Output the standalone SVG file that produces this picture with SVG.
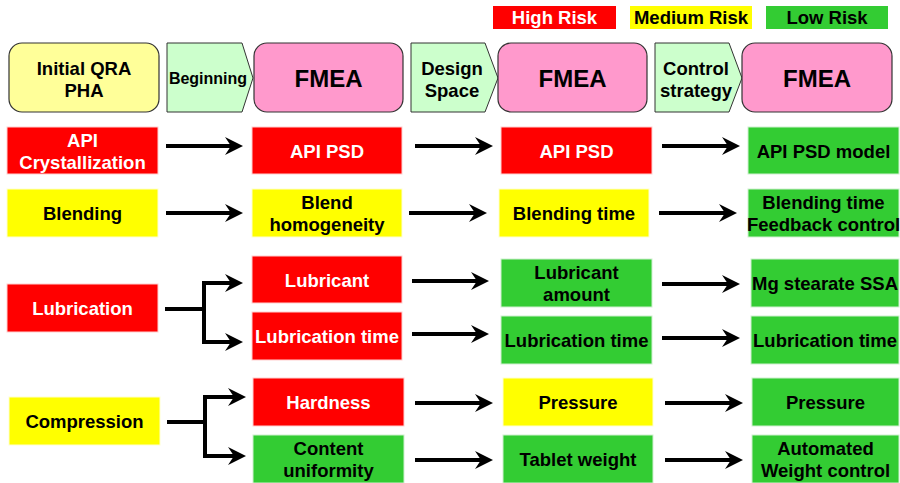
<svg xmlns="http://www.w3.org/2000/svg" width="900" height="483" viewBox="0 0 900 483">
<style>
text{font-family:"Liberation Sans",Arial,sans-serif;font-weight:bold;text-anchor:middle}
.t{font-size:18.5px}
.w{fill:#fff}
.k{fill:#000}
.red{fill:#FF0000;stroke:#ffd0d0;stroke-width:1}
.yel{fill:#FFFF00;stroke:#ffffd0;stroke-width:1}
.grn{fill:#33CC33;stroke:#d0f0d0;stroke-width:1}
.hy{fill:#FFFF99;stroke:#333;stroke-width:1.2}
.hp{fill:#FF99CC;stroke:#333;stroke-width:1.2}
.ch{fill:#CCFFCC;stroke:#333;stroke-width:1}
.big{font-size:24px}
.conn path{fill:none;stroke:#000;stroke-width:4;marker-end:url(#ah)}
</style>
<defs>
<marker id="ah" markerUnits="userSpaceOnUse" markerWidth="20" markerHeight="20" viewBox="0 0 20 20" refX="10" refY="10" orient="auto">
<path d="M1,1 L19,10 L1,19 L7,10 Z" fill="#000"/>
</marker>
</defs>
<g id="legend">
<rect x="493" y="6" width="123" height="23" fill="#FF0000"/>
<text class="t w" x="554.5" y="24">High Risk</text>
<rect x="630" y="6" width="122" height="23" fill="#FFFF00"/>
<text class="t k" x="691" y="24">Medium Risk</text>
<rect x="766" y="6" width="122" height="23" fill="#33CC33"/>
<text class="t k" x="827" y="24">Low Risk</text>
</g>
<g id="h-initial"><rect class="hy" x="9" y="43" width="150" height="69" rx="13"/><text class="t" x="84" y="75">Initial QRA</text><text class="t" x="84" y="97">PHA</text></g>
<g id="h-beginning"><path class="ch" d="M167,43 H242 L253,78 L242,112 H167 Z"/><text x="208" y="84" font-size="16">Beginning</text></g>
<g id="h-fmea1"><rect class="hp" x="254" y="43" width="149" height="69" rx="13"/><text class="big" x="328.5" y="87">FMEA</text></g>
<g id="h-design"><path class="ch" d="M411,43 H485 L498,78 L485,112 H411 Z"/><text class="t" x="452" y="75">Design</text><text class="t" x="452" y="97">Space</text></g>
<g id="h-fmea2"><rect class="hp" x="498" y="43" width="149" height="69" rx="13"/><text class="big" x="572.5" y="87">FMEA</text></g>
<g id="h-control"><path class="ch" d="M655,43 H729 L742,78 L729,112 H655 Z"/><text class="t" x="696" y="75">Control</text><text class="t" x="696" y="97">strategy</text></g>
<g id="h-fmea3"><rect class="hp" x="742" y="43" width="150" height="69" rx="13"/><text class="big" x="817" y="87">FMEA</text></g>

<g id="n-api"><rect class="red" x="7" y="127" width="151" height="47"/><text class="t w" x="82.5" y="147">API</text><text class="t w" x="82.5" y="169">Crystallization</text></g>
<g id="n-apipsd1"><rect class="red" x="252" y="127" width="150" height="47"/><text class="t w" x="327" y="158">API PSD</text></g>
<g id="n-apipsd2"><rect class="red" x="501" y="127" width="151" height="47"/><text class="t w" x="576.5" y="158">API PSD</text></g>
<g id="n-apimodel"><rect class="grn" x="748" y="127" width="151" height="47"/><text class="t k" x="823.5" y="158">API PSD model</text></g>

<g id="n-blending"><rect class="yel" x="7" y="189" width="151" height="48"/><text class="t k" x="82.5" y="220">Blending</text></g>
<g id="n-blendhom"><rect class="yel" x="252" y="189" width="150" height="48"/><text class="t k" x="327" y="209">Blend</text><text class="t k" x="327" y="231">homogeneity</text></g>
<g id="n-blendtime"><rect class="yel" x="499" y="189" width="150" height="48"/><text class="t k" x="574" y="220">Blending time</text></g>
<g id="n-blendfb"><rect class="grn" x="748" y="189" width="151" height="48"/><text class="t k" x="823.5" y="209">Blending time</text><text class="t k" x="823.5" y="231">Feedback control</text></g>

<g id="n-lubrication"><rect class="red" x="7" y="284" width="151" height="48"/><text class="t w" x="82.5" y="315">Lubrication</text></g>
<g id="n-lubricant"><rect class="red" x="252" y="256" width="150" height="47"/><text class="t w" x="327" y="287">Lubricant</text></g>
<g id="n-lubtime1"><rect class="red" x="252" y="312" width="150" height="48"/><text class="t w" x="327" y="343">Lubrication time</text></g>
<g id="n-lubamount"><rect class="grn" x="501" y="259" width="151" height="48"/><text class="t k" x="576.5" y="279">Lubricant</text><text class="t k" x="576.5" y="301">amount</text></g>
<g id="n-lubtime2"><rect class="grn" x="501" y="316" width="151" height="48"/><text class="t k" x="576.5" y="347">Lubrication time</text></g>
<g id="n-mgssa"><rect class="grn" x="751" y="259" width="148" height="48"/><text class="t k" x="825" y="290">Mg stearate SSA</text></g>
<g id="n-lubtime3"><rect class="grn" x="751" y="316" width="148" height="48"/><text class="t k" x="825" y="347">Lubrication time</text></g>

<g id="n-compression"><rect class="yel" x="9" y="397" width="151" height="48"/><text class="t k" x="84.5" y="428">Compression</text></g>
<g id="n-hardness"><rect class="red" x="253" y="378" width="151" height="48"/><text class="t w" x="328.5" y="409">Hardness</text></g>
<g id="n-content"><rect class="grn" x="253" y="435" width="151" height="48"/><text class="t k" x="328.5" y="455">Content</text><text class="t k" x="328.5" y="477">uniformity</text></g>
<g id="n-pressure1"><rect class="yel" x="503" y="378" width="150" height="48"/><text class="t k" x="578" y="409">Pressure</text></g>
<g id="n-tablet"><rect class="grn" x="503" y="435" width="150" height="48"/><text class="t k" x="578" y="466">Tablet weight</text></g>
<g id="n-pressure2"><rect class="grn" x="752" y="378" width="147" height="48"/><text class="t k" x="825.5" y="409">Pressure</text></g>
<g id="n-weight"><rect class="grn" x="752" y="435" width="147" height="48"/><text class="t k" x="825.5" y="455">Automated</text><text class="t k" x="825.5" y="477">Weight control</text></g>

<g id="connectors" class="conn">
<path d="M166,146 H234"/>
<path d="M415,146 H484"/>
<path d="M662,146 H731"/>
<path d="M166,213 H234"/>
<path d="M409,213 H478"/>
<path d="M659,213 H728"/>
<path d="M165,309 H204 V283 H234"/>
<path d="M204,309 V342 H234"/>
<path d="M412,281 H480"/>
<path d="M412,334 H480"/>
<path d="M662,284 H731"/>
<path d="M662,338 H731"/>
<path d="M167,422 H205 V397 H237"/>
<path d="M205,422 V456 H237"/>
<path d="M415,403 H484"/>
<path d="M415,460 H484"/>
<path d="M665,403 H734"/>
<path d="M665,460 H734"/>
</g>
</svg>
